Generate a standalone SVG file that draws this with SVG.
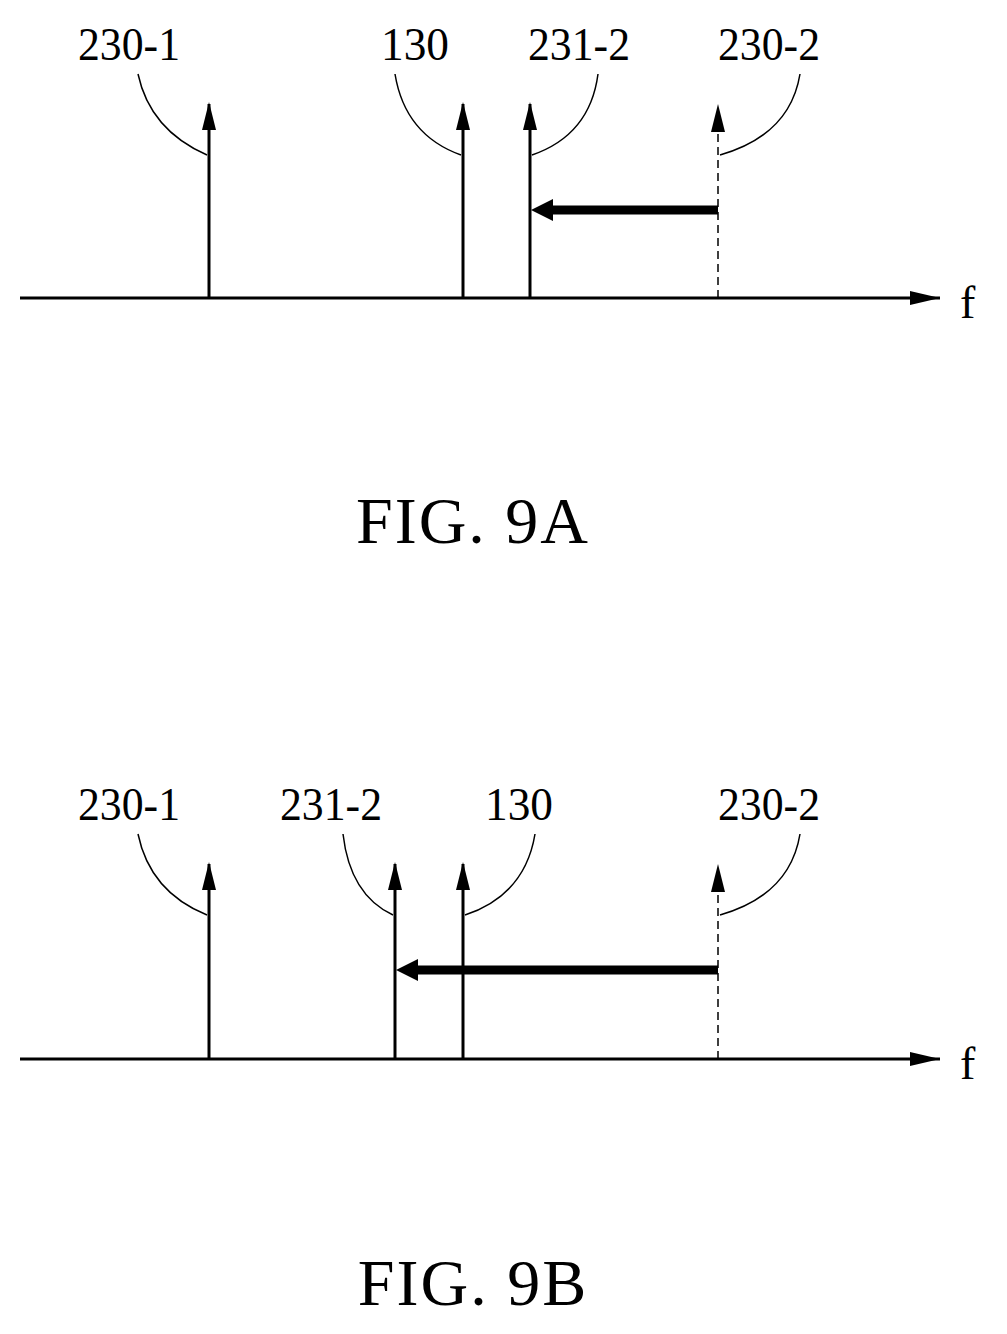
<svg xmlns="http://www.w3.org/2000/svg" width="1007" height="1334" viewBox="0 0 1007 1334">
<style>
.l{stroke:#000;stroke-width:3;fill:none}
.d{stroke:#000;stroke-width:1.5;fill:none;stroke-dasharray:8,5}
.c{stroke:#000;stroke-width:1.5;fill:none}
.t{font-family:"Liberation Serif",serif;font-size:46px;fill:#000}
.big{font-family:"Liberation Serif",serif;font-size:66px;fill:#000;letter-spacing:2px}
</style>
<defs>
<marker id="h" markerWidth="14" markerHeight="28" refX="7" refY="2" orient="0" markerUnits="userSpaceOnUse" viewBox="0 0 14 28"><path d="M7 0L14 28H0Z"/></marker>
<marker id="ax" markerWidth="30" markerHeight="14" refX="30" refY="7" orient="auto" markerUnits="userSpaceOnUse" viewBox="0 0 30 14"><path d="M0 0L30 7L0 14Z"/></marker>
</defs>
<g id="connectors">
<line class="l" x1="20" y1="298" x2="940" y2="298" marker-end="url(#ax)"/>
<line class="l" x1="209" y1="298" x2="209" y2="104" marker-end="url(#h)"/>
<line class="l" x1="463" y1="298" x2="463" y2="104" marker-end="url(#h)"/>
<line class="l" x1="530" y1="298" x2="530" y2="104" marker-end="url(#h)"/>
<line class="d" x1="718" y1="298" x2="718" y2="106"/>
<path d="M718 104L725 132H711Z"/>
<line stroke="#000" stroke-width="9" x1="718" y1="210" x2="548" y2="210"/>
<path d="M531 210L553 199V221Z"/>
<path class="c" d="M138 74Q150 130 207 155"/>
<path class="c" d="M395 74Q405 135 461 155"/>
<path class="c" d="M598 74Q590 135 532 155"/>
<path class="c" d="M800 74Q790 135 720 155"/>
<line class="l" x1="20" y1="1059" x2="940" y2="1059" marker-end="url(#ax)"/>
<line class="l" x1="209" y1="1059" x2="209" y2="864" marker-end="url(#h)"/>
<line class="l" x1="395" y1="1059" x2="395" y2="864" marker-end="url(#h)"/>
<line class="l" x1="463" y1="1059" x2="463" y2="864" marker-end="url(#h)"/>
<line class="d" x1="718" y1="1059" x2="718" y2="866"/>
<path d="M718 864L725 892H711Z"/>
<line stroke="#000" stroke-width="9" x1="718" y1="970" x2="413" y2="970"/>
<path d="M396 970L418 959V981Z"/>
<path class="c" d="M138 834Q150 892 207 915"/>
<path class="c" d="M343 834Q350 895 393 915"/>
<path class="c" d="M535 834Q525 895 465 915"/>
<path class="c" d="M800 834Q790 895 720 915"/>
</g>
<g id="labelsA">
<text class="t" x="78" y="60" textLength="102" lengthAdjust="spacingAndGlyphs">230-1</text>
<text class="t" x="381" y="60" textLength="68" lengthAdjust="spacingAndGlyphs">130</text>
<text class="t" x="528" y="60" textLength="102" lengthAdjust="spacingAndGlyphs">231-2</text>
<text class="t" x="718" y="60" textLength="102" lengthAdjust="spacingAndGlyphs">230-2</text>
<text class="t" x="960" y="318">f</text>
<text class="big" x="473" y="543" text-anchor="middle">FIG. 9A</text>
</g>
<g id="labelsB">
<text class="t" x="78" y="820" textLength="102" lengthAdjust="spacingAndGlyphs">230-1</text>
<text class="t" x="280" y="820" textLength="102" lengthAdjust="spacingAndGlyphs">231-2</text>
<text class="t" x="485" y="820" textLength="68" lengthAdjust="spacingAndGlyphs">130</text>
<text class="t" x="718" y="820" textLength="102" lengthAdjust="spacingAndGlyphs">230-2</text>
<text class="t" x="960" y="1079">f</text>
<text class="big" x="473" y="1305" text-anchor="middle">FIG. 9B</text>
</g>
</svg>
